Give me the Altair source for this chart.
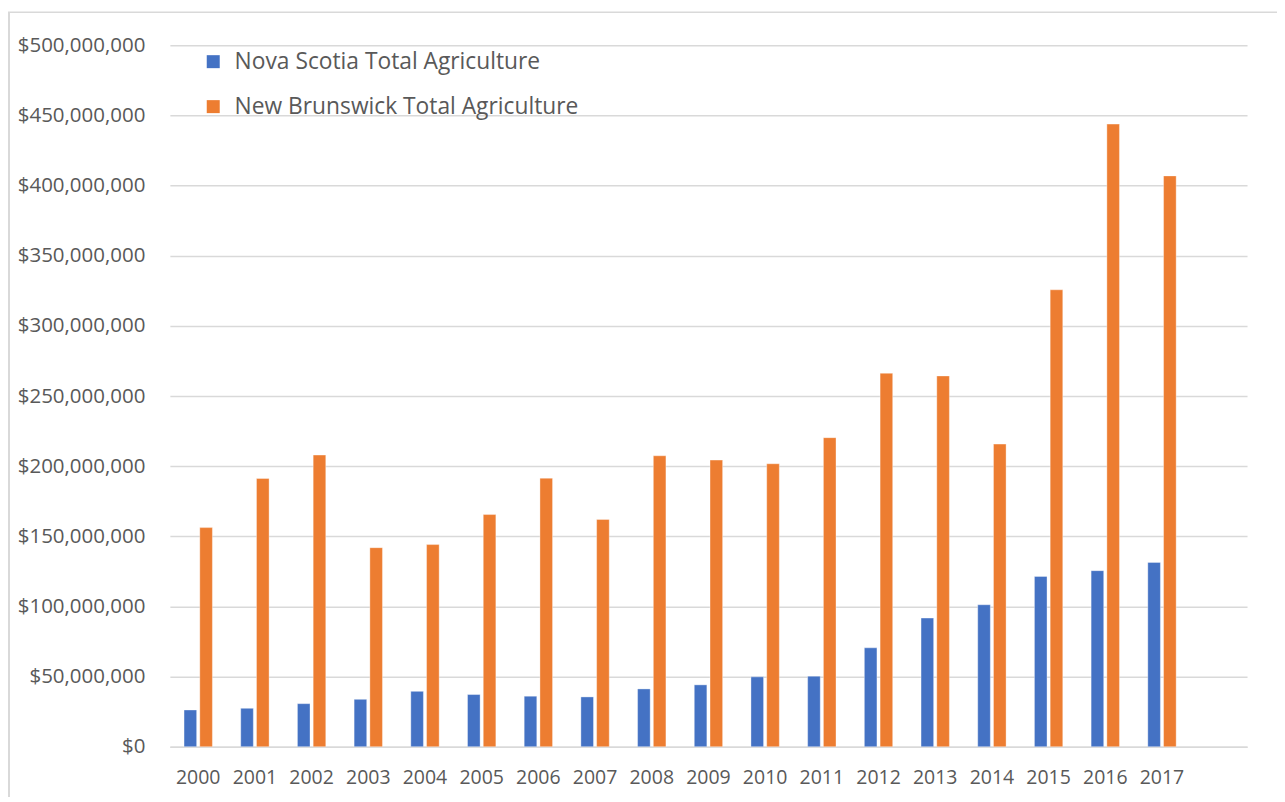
import altair as alt
import pandas as pd

years = ["2000", "2001", "2002", "2003", "2004", "2005", "2006", "2007", "2008",
         "2009", "2010", "2011", "2012", "2013", "2014", "2015", "2016", "2017"]
ns_values = [26.2, 27.4, 30.7, 33.8, 39.5, 37.2, 36.0, 35.5, 41.2,
             44.1, 49.8, 50.3, 70.5, 91.7, 101.2, 121.4, 125.5, 131.4]
nb_values = [156.2, 191.2, 207.9, 141.9, 144.1, 165.5, 191.4, 162.0, 207.4,
             204.3, 201.7, 220.3, 266.2, 264.3, 215.7, 325.7, 443.8, 406.9]
series = ["Nova Scotia Total Agriculture", "New Brunswick Total Agriculture"]
colors = ["#4472C4", "#ED7D31"]
y_ticks = [0, 50e6, 100e6, 150e6, 200e6, 250e6, 300e6, 350e6, 400e6, 450e6, 500e6]

rows = []
for y, a, b in zip(years, ns_values, nb_values):
    rows.append({"year": y, "series": series[0], "value": a * 1e6})
    rows.append({"year": y, "series": series[1], "value": b * 1e6})
df = pd.DataFrame(rows)

FONT = "Open Sans"
TXT = "#595959"
x_domain = years + [" "]

bars = alt.Chart(df).mark_bar(stroke="white", strokeWidth=0.6, strokeOpacity=0.6).encode(
    x=alt.X("year:N", scale=alt.Scale(domain=x_domain, paddingInner=0.5, paddingOuter=0.25),
            axis=alt.Axis(title=None, labelAngle=0, ticks=False, domain=True, domainColor="#D9D9D9",
                          domainWidth=1.5, labelPadding=22, labelFontSize=19.5, labelColor=TXT,
                          labelFont=FONT, grid=False)),
    xOffset=alt.XOffset("series:N", scale=alt.Scale(domain=series, paddingInner=0.2)),
    y=alt.Y("value:Q", scale=alt.Scale(domain=[0, 500e6], nice=False),
            axis=alt.Axis(title=None, values=y_ticks, format="$,.0f", ticks=False, domain=False,
                          labelPadding=25, labelFontSize=20.5, labelColor=TXT, labelFont=FONT,
                          gridColor="#D9D9D9", gridWidth=1.5)),
    color=alt.Color("series:N", scale=alt.Scale(domain=series, range=colors),
                    legend=alt.Legend(title=None, orient="none", legendX=32, legendY=5,
                                      symbolType="square", symbolSize=169, symbolStrokeWidth=0,
                                      labelFontSize=22.8, labelColor=TXT, labelFont=FONT,
                                      labelLimit=600,
                                      rowPadding=21, labelOffset=10, direction="vertical")),
)

frame_top = alt.Chart(pd.DataFrame({"k": [0]})).mark_rule(color="#D9D9D9", strokeWidth=1.5, clip=False).encode(
    x=alt.value(-162), x2=alt.value(1110), y=alt.value(-33))
frame_left = alt.Chart(pd.DataFrame({"k": [0]})).mark_rule(color="#D9D9D9", strokeWidth=2, clip=False).encode(
    x=alt.value(-161), y=alt.value(-33), y2=alt.value(757))

chart = alt.layer(bars, frame_top, frame_left).properties(
    width=1078, height=702,
    background="white",
    autosize=alt.AutoSizeParams(type="none"),
    padding={"left": 162, "top": 37, "right": 30, "bottom": 50},
).configure_view(strokeWidth=0, stroke="transparent")

chart.save("out.html", embed_options={"renderer": "svg", "actions": False})
